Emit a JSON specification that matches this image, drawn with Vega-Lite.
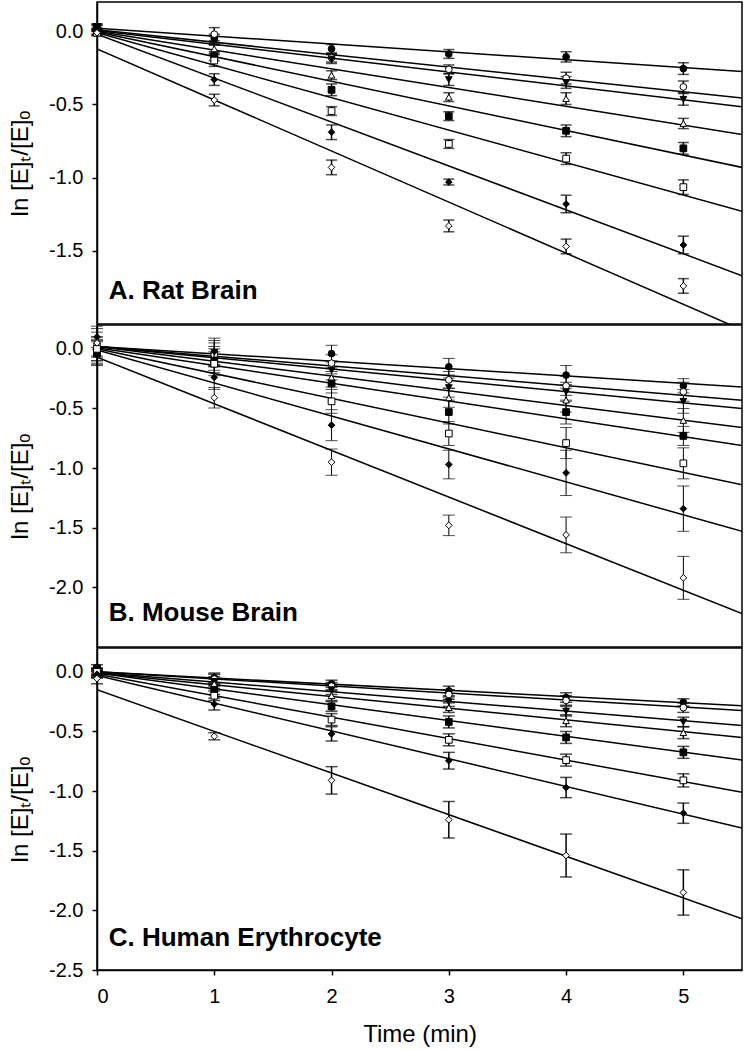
{
  "$schema": "https://vega.github.io/schema/vega-lite/v6.json",
  "padding": {"left": 7, "top": 1, "right": 1, "bottom": 5},
  "spacing": 1,
  "bounds": "flush",
  "config": {
    "font": "Liberation Sans",
    "view": {"stroke": "black", "strokeWidth": 1.5},
    "axis": {"grid": false, "domainColor": "black", "domainWidth": 1.5, "tickColor": "black", "tickWidth": 1.5, "tickSize": 5, "labelFont": "Liberation Sans", "labelFontSize": 20, "labelColor": "black", "titleFont": "Liberation Sans", "titleFontSize": 24, "titleFontWeight": "normal", "titleColor": "black", "labelPadding": 9}
  },
  "resolve": {"scale": {"y": "independent"}},
  "datasets": {
    "ptsA": [
      {"series": "S1", "t": 0, "y": 0.02, "lo": 0.0, "hi": 0.04},
      {"series": "S1", "t": 1, "y": -0.05, "lo": -0.08, "hi": -0.02},
      {"series": "S1", "t": 2, "y": -0.12, "lo": -0.15, "hi": -0.09},
      {"series": "S1", "t": 3, "y": -0.155, "lo": -0.185, "hi": -0.125},
      {"series": "S1", "t": 4, "y": -0.175, "lo": -0.21, "hi": -0.14},
      {"series": "S1", "t": 5, "y": -0.255, "lo": -0.295, "hi": -0.215},
      {"series": "S2", "t": 0, "y": 0.0, "lo": -0.02, "hi": 0.02},
      {"series": "S2", "t": 1, "y": -0.02, "lo": -0.065, "hi": 0.025},
      {"series": "S2", "t": 2, "y": -0.18, "lo": -0.21, "hi": -0.15},
      {"series": "S2", "t": 3, "y": -0.26, "lo": -0.29, "hi": -0.23},
      {"series": "S2", "t": 4, "y": -0.32, "lo": -0.36, "hi": -0.28},
      {"series": "S2", "t": 5, "y": -0.38, "lo": -0.42, "hi": -0.34},
      {"series": "S3", "t": 0, "y": 0.03, "lo": 0.01, "hi": 0.05},
      {"series": "S3", "t": 1, "y": -0.065, "lo": -0.095, "hi": -0.035},
      {"series": "S3", "t": 2, "y": -0.19, "lo": -0.22, "hi": -0.16},
      {"series": "S3", "t": 3, "y": -0.33, "lo": -0.37, "hi": -0.29},
      {"series": "S3", "t": 4, "y": -0.35, "lo": -0.39, "hi": -0.31},
      {"series": "S3", "t": 5, "y": -0.465, "lo": -0.505, "hi": -0.425},
      {"series": "S4", "t": 0, "y": 0.02, "lo": 0.0, "hi": 0.04},
      {"series": "S4", "t": 1, "y": -0.12, "lo": -0.15, "hi": -0.09},
      {"series": "S4", "t": 2, "y": -0.3, "lo": -0.33, "hi": -0.27},
      {"series": "S4", "t": 3, "y": -0.45, "lo": -0.48, "hi": -0.42},
      {"series": "S4", "t": 4, "y": -0.46, "lo": -0.5, "hi": -0.42},
      {"series": "S4", "t": 5, "y": -0.63, "lo": -0.665, "hi": -0.595},
      {"series": "S5", "t": 0, "y": 0.03, "lo": 0.01, "hi": 0.05},
      {"series": "S5", "t": 1, "y": -0.17, "lo": -0.2, "hi": -0.14},
      {"series": "S5", "t": 2, "y": -0.4, "lo": -0.44, "hi": -0.36},
      {"series": "S5", "t": 3, "y": -0.58, "lo": -0.61, "hi": -0.55},
      {"series": "S5", "t": 4, "y": -0.68, "lo": -0.72, "hi": -0.64},
      {"series": "S5", "t": 5, "y": -0.8, "lo": -0.84, "hi": -0.76},
      {"series": "S6", "t": 0, "y": -0.01, "lo": -0.03, "hi": 0.01},
      {"series": "S6", "t": 1, "y": -0.2, "lo": -0.24, "hi": -0.16},
      {"series": "S6", "t": 2, "y": -0.545, "lo": -0.575, "hi": -0.515},
      {"series": "S6", "t": 3, "y": -0.77, "lo": -0.8, "hi": -0.74},
      {"series": "S6", "t": 4, "y": -0.87, "lo": -0.91, "hi": -0.83},
      {"series": "S6", "t": 5, "y": -1.065, "lo": -1.115, "hi": -1.015},
      {"series": "S7", "t": 0, "y": 0.0, "lo": -0.02, "hi": 0.02},
      {"series": "S7", "t": 1, "y": -0.33, "lo": -0.37, "hi": -0.29},
      {"series": "S7", "t": 2, "y": -0.69, "lo": -0.74, "hi": -0.64},
      {"series": "S7", "t": 3, "y": -1.03, "lo": -1.05, "hi": -1.01},
      {"series": "S7", "t": 4, "y": -1.18, "lo": -1.24, "hi": -1.12},
      {"series": "S7", "t": 5, "y": -1.46, "lo": -1.52, "hi": -1.4},
      {"series": "S8", "t": 0, "y": -0.01, "lo": -0.03, "hi": 0.01},
      {"series": "S8", "t": 1, "y": -0.47, "lo": -0.51, "hi": -0.43},
      {"series": "S8", "t": 2, "y": -0.93, "lo": -0.98, "hi": -0.88},
      {"series": "S8", "t": 3, "y": -1.33, "lo": -1.37, "hi": -1.29},
      {"series": "S8", "t": 4, "y": -1.47, "lo": -1.52, "hi": -1.42},
      {"series": "S8", "t": 5, "y": -1.74, "lo": -1.79, "hi": -1.69}
    ],
    "fitsA": [
      {"series": "S1", "t": 0, "y": 0.02}, {"series": "S1", "t": 5.5, "y": -0.275},
      {"series": "S2", "t": 0, "y": 0.01}, {"series": "S2", "t": 5.5, "y": -0.456},
      {"series": "S3", "t": 0, "y": 0.005}, {"series": "S3", "t": 5.5, "y": -0.515},
      {"series": "S4", "t": 0, "y": 0.0}, {"series": "S4", "t": 5.5, "y": -0.705},
      {"series": "S5", "t": 0, "y": -0.005}, {"series": "S5", "t": 5.5, "y": -0.93},
      {"series": "S6", "t": 0, "y": -0.01}, {"series": "S6", "t": 5.5, "y": -1.23},
      {"series": "S7", "t": 0, "y": -0.02}, {"series": "S7", "t": 5.5, "y": -1.67},
      {"series": "S8", "t": 0, "y": -0.12}, {"series": "S8", "t": 5.5, "y": -2.04}
    ],
    "ptsB": [
      {"series": "S1", "t": 0, "y": 0.0, "lo": -0.1, "hi": 0.1},
      {"series": "S1", "t": 1, "y": -0.03, "lo": -0.13, "hi": 0.07},
      {"series": "S1", "t": 2, "y": -0.04, "lo": -0.11, "hi": 0.03},
      {"series": "S1", "t": 3, "y": -0.15, "lo": -0.22, "hi": -0.08},
      {"series": "S1", "t": 4, "y": -0.22, "lo": -0.3, "hi": -0.14},
      {"series": "S1", "t": 5, "y": -0.31, "lo": -0.37, "hi": -0.25},
      {"series": "S2", "t": 0, "y": 0.04, "lo": -0.06, "hi": 0.14},
      {"series": "S2", "t": 1, "y": -0.05, "lo": -0.15, "hi": 0.05},
      {"series": "S2", "t": 2, "y": -0.12, "lo": -0.19, "hi": -0.05},
      {"series": "S2", "t": 3, "y": -0.26, "lo": -0.33, "hi": -0.19},
      {"series": "S2", "t": 4, "y": -0.31, "lo": -0.39, "hi": -0.23},
      {"series": "S2", "t": 5, "y": -0.36, "lo": -0.44, "hi": -0.28},
      {"series": "S3", "t": 0, "y": -0.03, "lo": -0.13, "hi": 0.07},
      {"series": "S3", "t": 1, "y": -0.03, "lo": -0.15, "hi": 0.09},
      {"series": "S3", "t": 2, "y": -0.18, "lo": -0.26, "hi": -0.1},
      {"series": "S3", "t": 3, "y": -0.325, "lo": -0.405, "hi": -0.245},
      {"series": "S3", "t": 4, "y": -0.36, "lo": -0.44, "hi": -0.28},
      {"series": "S3", "t": 5, "y": -0.44, "lo": -0.54, "hi": -0.34},
      {"series": "S4", "t": 0, "y": -0.02, "lo": -0.12, "hi": 0.08},
      {"series": "S4", "t": 1, "y": -0.08, "lo": -0.18, "hi": 0.02},
      {"series": "S4", "t": 2, "y": -0.24, "lo": -0.32, "hi": -0.16},
      {"series": "S4", "t": 3, "y": -0.41, "lo": -0.49, "hi": -0.33},
      {"series": "S4", "t": 4, "y": -0.43, "lo": -0.53, "hi": -0.33},
      {"series": "S4", "t": 5, "y": -0.6, "lo": -0.7, "hi": -0.5},
      {"series": "S5", "t": 0, "y": -0.04, "lo": -0.14, "hi": 0.06},
      {"series": "S5", "t": 1, "y": -0.1, "lo": -0.2, "hi": 0.0},
      {"series": "S5", "t": 2, "y": -0.29, "lo": -0.37, "hi": -0.21},
      {"series": "S5", "t": 3, "y": -0.53, "lo": -0.63, "hi": -0.43},
      {"series": "S5", "t": 4, "y": -0.53, "lo": -0.63, "hi": -0.43},
      {"series": "S5", "t": 5, "y": -0.73, "lo": -0.81, "hi": -0.65},
      {"series": "S6", "t": 0, "y": 0.0, "lo": -0.1, "hi": 0.1},
      {"series": "S6", "t": 1, "y": -0.125, "lo": -0.225, "hi": -0.025},
      {"series": "S6", "t": 2, "y": -0.44, "lo": -0.54, "hi": -0.34},
      {"series": "S6", "t": 3, "y": -0.71, "lo": -0.81, "hi": -0.61},
      {"series": "S6", "t": 4, "y": -0.79, "lo": -0.92, "hi": -0.66},
      {"series": "S6", "t": 5, "y": -0.96, "lo": -1.09, "hi": -0.83},
      {"series": "S7", "t": 0, "y": 0.1, "lo": 0.01, "hi": 0.19},
      {"series": "S7", "t": 1, "y": -0.24, "lo": -0.34, "hi": -0.14},
      {"series": "S7", "t": 2, "y": -0.64, "lo": -0.77, "hi": -0.51},
      {"series": "S7", "t": 3, "y": -0.97, "lo": -1.09, "hi": -0.85},
      {"series": "S7", "t": 4, "y": -1.04, "lo": -1.23, "hi": -0.85},
      {"series": "S7", "t": 5, "y": -1.34, "lo": -1.53, "hi": -1.15},
      {"series": "S8", "t": 0, "y": 0.05, "lo": -0.07, "hi": 0.17},
      {"series": "S8", "t": 1, "y": -0.41, "lo": -0.496, "hi": -0.324},
      {"series": "S8", "t": 2, "y": -0.95, "lo": -1.06, "hi": -0.84},
      {"series": "S8", "t": 3, "y": -1.48, "lo": -1.566, "hi": -1.394},
      {"series": "S8", "t": 4, "y": -1.56, "lo": -1.71, "hi": -1.41},
      {"series": "S8", "t": 5, "y": -1.92, "lo": -2.1, "hi": -1.74}
    ],
    "fitsB": [
      {"series": "S1", "t": 0, "y": 0.02}, {"series": "S1", "t": 5.5, "y": -0.32},
      {"series": "S2", "t": 0, "y": 0.02}, {"series": "S2", "t": 5.5, "y": -0.43},
      {"series": "S3", "t": 0, "y": 0.02}, {"series": "S3", "t": 5.5, "y": -0.5},
      {"series": "S4", "t": 0, "y": 0.02}, {"series": "S4", "t": 5.5, "y": -0.66},
      {"series": "S5", "t": 0, "y": 0.01}, {"series": "S5", "t": 5.5, "y": -0.81},
      {"series": "S6", "t": 0, "y": 0.0}, {"series": "S6", "t": 5.5, "y": -1.14},
      {"series": "S7", "t": 0, "y": -0.01}, {"series": "S7", "t": 5.5, "y": -1.53},
      {"series": "S8", "t": 0, "y": -0.07}, {"series": "S8", "t": 5.5, "y": -2.22}
    ],
    "ptsC": [
      {"series": "S1", "t": 0, "y": 0.0, "lo": -0.03, "hi": 0.03},
      {"series": "S1", "t": 1, "y": -0.05, "lo": -0.09, "hi": -0.01},
      {"series": "S1", "t": 2, "y": -0.1, "lo": -0.13, "hi": -0.07},
      {"series": "S1", "t": 3, "y": -0.16, "lo": -0.2, "hi": -0.12},
      {"series": "S1", "t": 4, "y": -0.215, "lo": -0.255, "hi": -0.175},
      {"series": "S1", "t": 5, "y": -0.256, "lo": -0.286, "hi": -0.226},
      {"series": "S2", "t": 0, "y": 0.0, "lo": -0.03, "hi": 0.03},
      {"series": "S2", "t": 1, "y": -0.06, "lo": -0.1, "hi": -0.02},
      {"series": "S2", "t": 2, "y": -0.12, "lo": -0.15, "hi": -0.09},
      {"series": "S2", "t": 3, "y": -0.19, "lo": -0.23, "hi": -0.15},
      {"series": "S2", "t": 4, "y": -0.24, "lo": -0.28, "hi": -0.2},
      {"series": "S2", "t": 5, "y": -0.3, "lo": -0.34, "hi": -0.26},
      {"series": "S3", "t": 0, "y": -0.01, "lo": -0.04, "hi": 0.02},
      {"series": "S3", "t": 1, "y": -0.08, "lo": -0.12, "hi": -0.04},
      {"series": "S3", "t": 2, "y": -0.15, "lo": -0.19, "hi": -0.11},
      {"series": "S3", "t": 3, "y": -0.25, "lo": -0.29, "hi": -0.21},
      {"series": "S3", "t": 4, "y": -0.33, "lo": -0.37, "hi": -0.29},
      {"series": "S3", "t": 5, "y": -0.42, "lo": -0.46, "hi": -0.38},
      {"series": "S4", "t": 0, "y": -0.02, "lo": -0.05, "hi": 0.01},
      {"series": "S4", "t": 1, "y": -0.1, "lo": -0.14, "hi": -0.06},
      {"series": "S4", "t": 2, "y": -0.2, "lo": -0.24, "hi": -0.16},
      {"series": "S4", "t": 3, "y": -0.3, "lo": -0.34, "hi": -0.26},
      {"series": "S4", "t": 4, "y": -0.41, "lo": -0.46, "hi": -0.36},
      {"series": "S4", "t": 5, "y": -0.51, "lo": -0.56, "hi": -0.46},
      {"series": "S5", "t": 0, "y": 0.03, "lo": 0.0, "hi": 0.06},
      {"series": "S5", "t": 1, "y": -0.15, "lo": -0.19, "hi": -0.11},
      {"series": "S5", "t": 2, "y": -0.29, "lo": -0.33, "hi": -0.25},
      {"series": "S5", "t": 3, "y": -0.42, "lo": -0.47, "hi": -0.37},
      {"series": "S5", "t": 4, "y": -0.55, "lo": -0.6, "hi": -0.5},
      {"series": "S5", "t": 5, "y": -0.675, "lo": -0.725, "hi": -0.625},
      {"series": "S6", "t": 0, "y": 0.0, "lo": -0.03, "hi": 0.03},
      {"series": "S6", "t": 1, "y": -0.2, "lo": -0.24, "hi": -0.16},
      {"series": "S6", "t": 2, "y": -0.4, "lo": -0.45, "hi": -0.35},
      {"series": "S6", "t": 3, "y": -0.57, "lo": -0.62, "hi": -0.52},
      {"series": "S6", "t": 4, "y": -0.74, "lo": -0.79, "hi": -0.69},
      {"series": "S6", "t": 5, "y": -0.91, "lo": -0.965, "hi": -0.855},
      {"series": "S7", "t": 0, "y": -0.02, "lo": -0.05, "hi": 0.01},
      {"series": "S7", "t": 1, "y": -0.27, "lo": -0.32, "hi": -0.22},
      {"series": "S7", "t": 2, "y": -0.52, "lo": -0.58, "hi": -0.46},
      {"series": "S7", "t": 3, "y": -0.745, "lo": -0.815, "hi": -0.675},
      {"series": "S7", "t": 4, "y": -0.97, "lo": -1.055, "hi": -0.885},
      {"series": "S7", "t": 5, "y": -1.185, "lo": -1.27, "hi": -1.1},
      {"series": "S8", "t": 0, "y": -0.056, "lo": -0.1, "hi": -0.016},
      {"series": "S8", "t": 1, "y": -0.54, "lo": -0.57, "hi": -0.51},
      {"series": "S8", "t": 2, "y": -0.91, "lo": -1.025, "hi": -0.795},
      {"series": "S8", "t": 3, "y": -1.24, "lo": -1.393, "hi": -1.087},
      {"series": "S8", "t": 4, "y": -1.54, "lo": -1.72, "hi": -1.36},
      {"series": "S8", "t": 5, "y": -1.85, "lo": -2.04, "hi": -1.66}
    ],
    "fitsC": [
      {"series": "S1", "t": 0, "y": 0.0}, {"series": "S1", "t": 5.5, "y": -0.285},
      {"series": "S2", "t": 0, "y": 0.0}, {"series": "S2", "t": 5.5, "y": -0.325},
      {"series": "S3", "t": 0, "y": -0.005}, {"series": "S3", "t": 5.5, "y": -0.45},
      {"series": "S4", "t": 0, "y": -0.01}, {"series": "S4", "t": 5.5, "y": -0.55},
      {"series": "S5", "t": 0, "y": -0.01}, {"series": "S5", "t": 5.5, "y": -0.74},
      {"series": "S6", "t": 0, "y": -0.02}, {"series": "S6", "t": 5.5, "y": -1.01},
      {"series": "S7", "t": 0, "y": -0.03}, {"series": "S7", "t": 5.5, "y": -1.31},
      {"series": "S8", "t": 0, "y": -0.15}, {"series": "S8", "t": 5.5, "y": -2.07}
    ],
    "one": [{}]
  },
  "vconcat": [
    {
      "width": 645, "height": 322,
      "layer": [
        {"data": {"name": "fitsA"}, "mark": {"type": "line", "color": "black", "strokeWidth": 1.5, "clip": true},
         "encoding": {"x": {"field": "t", "type": "quantitative", "scale": {"domain": [0, 5.5], "nice": false}, "axis": null},
                      "y": {"field": "y", "type": "quantitative", "scale": {"domain": [-2.0, 0.2], "nice": false, "zero": false},
                            "axis": {"title": "ln [E]ₜ/[E]ₒ", "values": [0, -0.5, -1, -1.5], "format": ".1f", "titlePadding": 16, "labelExpr": "replace(datum.label, '−', '-')"}},
                      "detail": {"field": "series"}}},
        {"data": {"name": "ptsA"}, "mark": {"type": "rule", "color": "black", "strokeWidth": 1.5},
         "encoding": {"x": {"field": "t", "type": "quantitative"}, "y": {"field": "lo", "type": "quantitative"}, "y2": {"field": "hi"}}},
        {"data": {"name": "ptsA"}, "mark": {"type": "tick", "orient": "horizontal", "color": "black", "size": 11, "thickness": 1.5},
         "encoding": {"x": {"field": "t", "type": "quantitative"}, "y": {"field": "lo", "type": "quantitative"}}},
        {"data": {"name": "ptsA"}, "mark": {"type": "tick", "orient": "horizontal", "color": "black", "size": 11, "thickness": 1.5},
         "encoding": {"x": {"field": "t", "type": "quantitative"}, "y": {"field": "hi", "type": "quantitative"}}},
        {"data": {"name": "ptsA"}, "mark": {"type": "point", "filled": true, "stroke": "black", "strokeWidth": 1, "size": 45, "opacity": 1},
         "encoding": {"x": {"field": "t", "type": "quantitative"}, "y": {"field": "y", "type": "quantitative"},
                      "shape": {"field": "series", "type": "nominal", "scale": {"domain": ["S1","S2","S3","S4","S5","S6","S7","S8"], "range": ["circle","circle","triangle-down","triangle-up","square","square","diamond","diamond"]}, "legend": null},
                      "fill": {"field": "series", "type": "nominal", "scale": {"domain": ["S1","S2","S3","S4","S5","S6","S7","S8"], "range": ["black","white","black","white","black","white","black","white"]}, "legend": null}}},
        {"data": {"name": "one"}, "mark": {"type": "text", "align": "left", "baseline": "alphabetic", "fontSize": 26, "fontWeight": "bold", "font": "Liberation Sans", "color": "black"},
         "encoding": {"x": {"datum": 0.1}, "y": {"datum": -1.83}, "text": {"value": "A. Rat Brain"}}}
      ]
    },
    {
      "width": 645, "height": 322,
      "layer": [
        {"data": {"name": "fitsB"}, "mark": {"type": "line", "color": "black", "strokeWidth": 1.5, "clip": true},
         "encoding": {"x": {"field": "t", "type": "quantitative", "scale": {"domain": [0, 5.5], "nice": false}, "axis": null},
                      "y": {"field": "y", "type": "quantitative", "scale": {"domain": [-2.5, 0.2], "nice": false, "zero": false},
                            "axis": {"title": "ln [E]ₜ/[E]ₒ", "values": [0, -0.5, -1, -1.5, -2], "format": ".1f", "titlePadding": 16, "labelExpr": "replace(datum.label, '−', '-')"}},
                      "detail": {"field": "series"}}},
        {"data": {"name": "ptsB"}, "mark": {"type": "rule", "color": "black", "strokeWidth": 1},
         "encoding": {"x": {"field": "t", "type": "quantitative"}, "y": {"field": "lo", "type": "quantitative"}, "y2": {"field": "hi"}}},
        {"data": {"name": "ptsB"}, "mark": {"type": "tick", "orient": "horizontal", "color": "black", "size": 12, "thickness": 1},
         "encoding": {"x": {"field": "t", "type": "quantitative"}, "y": {"field": "lo", "type": "quantitative"}}},
        {"data": {"name": "ptsB"}, "mark": {"type": "tick", "orient": "horizontal", "color": "black", "size": 12, "thickness": 1},
         "encoding": {"x": {"field": "t", "type": "quantitative"}, "y": {"field": "hi", "type": "quantitative"}}},
        {"data": {"name": "ptsB"}, "mark": {"type": "point", "filled": true, "stroke": "black", "strokeWidth": 1, "size": 45, "opacity": 1},
         "encoding": {"x": {"field": "t", "type": "quantitative"}, "y": {"field": "y", "type": "quantitative"},
                      "shape": {"field": "series", "type": "nominal", "scale": {"domain": ["S1","S2","S3","S4","S5","S6","S7","S8"], "range": ["circle","circle","triangle-down","triangle-up","square","square","diamond","diamond"]}, "legend": null},
                      "fill": {"field": "series", "type": "nominal", "scale": {"domain": ["S1","S2","S3","S4","S5","S6","S7","S8"], "range": ["black","white","black","white","black","white","black","white"]}, "legend": null}}},
        {"data": {"name": "one"}, "mark": {"type": "text", "align": "left", "baseline": "alphabetic", "fontSize": 26, "fontWeight": "bold", "font": "Liberation Sans", "color": "black"},
         "encoding": {"x": {"datum": 0.1}, "y": {"datum": -2.283}, "text": {"value": "B. Mouse Brain"}}}
      ]
    },
    {
      "width": 645, "height": 322,
      "layer": [
        {"data": {"name": "fitsC"}, "mark": {"type": "line", "color": "black", "strokeWidth": 1.5, "clip": true},
         "encoding": {"x": {"field": "t", "type": "quantitative", "scale": {"domain": [0, 5.5], "nice": false},
                            "axis": {"title": "Time (min)", "values": [0, 1, 2, 3, 4, 5], "format": "d", "labelPadding": 11, "titlePadding": 16}},
                      "y": {"field": "y", "type": "quantitative", "scale": {"domain": [-2.5, 0.2], "nice": false, "zero": false},
                            "axis": {"title": "ln [E]ₜ/[E]ₒ", "values": [0, -0.5, -1, -1.5, -2, -2.5], "format": ".1f", "titlePadding": 16, "labelExpr": "replace(datum.label, '−', '-')"}},
                      "detail": {"field": "series"}}},
        {"data": {"name": "ptsC"}, "mark": {"type": "rule", "color": "black", "strokeWidth": 1.5},
         "encoding": {"x": {"field": "t", "type": "quantitative"}, "y": {"field": "lo", "type": "quantitative"}, "y2": {"field": "hi"}}},
        {"data": {"name": "ptsC"}, "mark": {"type": "tick", "orient": "horizontal", "color": "black", "size": 12, "thickness": 1.5},
         "encoding": {"x": {"field": "t", "type": "quantitative"}, "y": {"field": "lo", "type": "quantitative"}}},
        {"data": {"name": "ptsC"}, "mark": {"type": "tick", "orient": "horizontal", "color": "black", "size": 12, "thickness": 1.5},
         "encoding": {"x": {"field": "t", "type": "quantitative"}, "y": {"field": "hi", "type": "quantitative"}}},
        {"data": {"name": "ptsC"}, "mark": {"type": "point", "filled": true, "stroke": "black", "strokeWidth": 1, "size": 45, "opacity": 1},
         "encoding": {"x": {"field": "t", "type": "quantitative"}, "y": {"field": "y", "type": "quantitative"},
                      "shape": {"field": "series", "type": "nominal", "scale": {"domain": ["S1","S2","S3","S4","S5","S6","S7","S8"], "range": ["circle","circle","triangle-down","triangle-up","square","square","diamond","diamond"]}, "legend": null},
                      "fill": {"field": "series", "type": "nominal", "scale": {"domain": ["S1","S2","S3","S4","S5","S6","S7","S8"], "range": ["black","white","black","white","black","white","black","white"]}, "legend": null}}},
        {"data": {"name": "one"}, "mark": {"type": "text", "align": "left", "baseline": "alphabetic", "fontSize": 26, "fontWeight": "bold", "font": "Liberation Sans", "color": "black"},
         "encoding": {"x": {"datum": 0.1}, "y": {"datum": -2.3}, "text": {"value": "C. Human Erythrocyte"}}}
      ]
    }
  ]
}
